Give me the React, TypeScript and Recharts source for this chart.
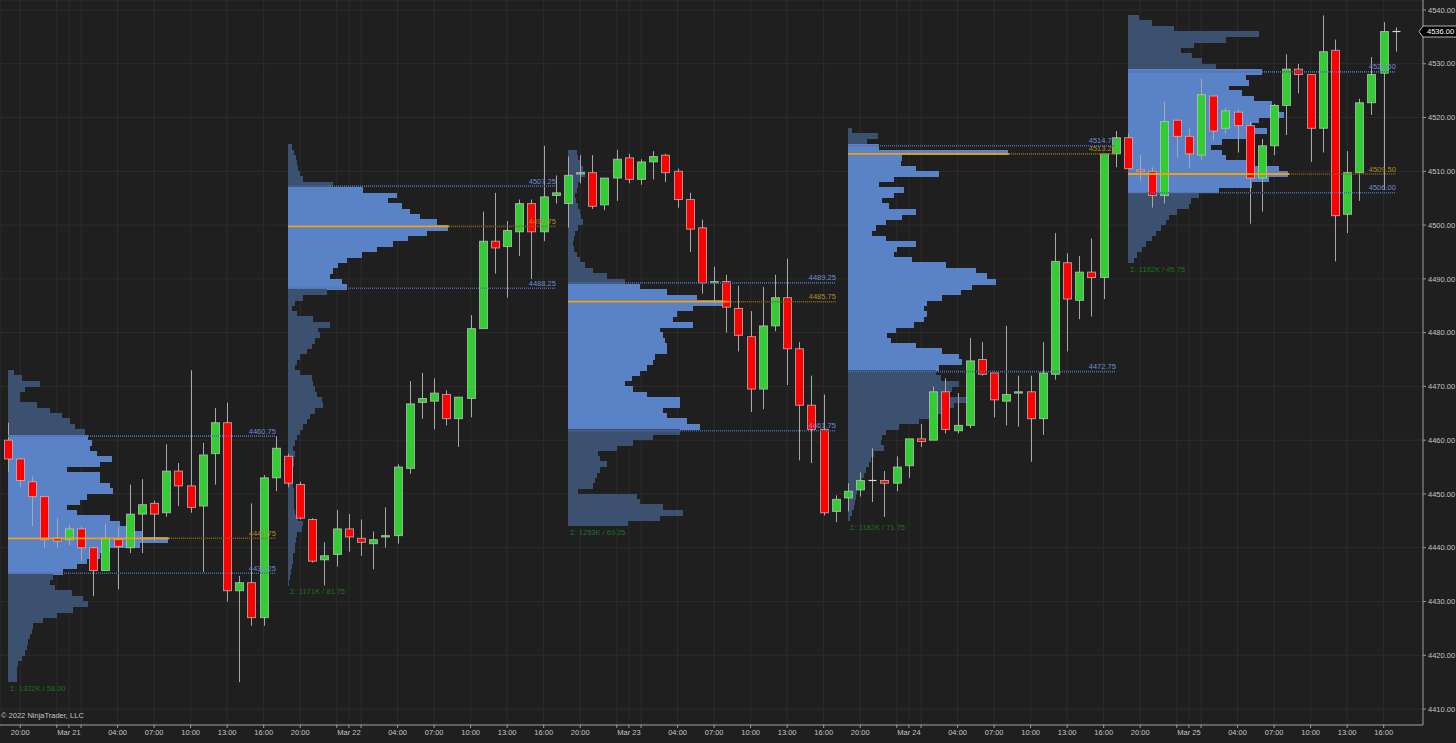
import React from "react";
import {
  Bar,
  CartesianGrid,
  ComposedChart,
  ReferenceArea,
  ReferenceDot,
  ReferenceLine,
  XAxis,
  YAxis,
} from "recharts";

const BG = "#1f1f1f";
const GRID = "#2c2c2c";
const AXIS = "#9a9a9a";
const TEXT = "#c4c4c4";
const FONT = "'Liberation Sans', Arial, sans-serif";
const UP = "#32cd32";
const DOWN = "#ff0000";
const WICK = "#a8a8a8";
const BODY_EDGE = "#c8c8c8";
const VA_FILL = "#5a82c6";
const OUT_FILL = "#3c506f";
const VA_LINE = "#4e6ba6";
const VA_TEXT = "#6e8cd2";
const POC_SOLID = "#f0a010";
const POC_DOTS = "#8a6a1e";
const POC_TEXT = "#b0862a";
const SUM_TEXT = "#1e6f1e";

// hourly bars, 23 per session
const DAYS = ["Mar 21", "Mar 22", "Mar 23", "Mar 24", "Mar 25"];
const BARS_PER_DAY = 23;

const OPEN = [
  4460, 4456.5, 4452.25, 4449.5, 4441.75, 4441.5, 4443.5, 4440, 4435.75, 4441.5, 4440, 4446.25, 4448.25, 4446.5, 4454.25, 4451.5, 4447.75, 4457.5, 4463.25, 4432, 4433.5, 4427, 4453,
  4457, 4451.75, 4445.25, 4437.75, 4438.75, 4443.5, 4441.75, 4440.75, 4442, 4442.25, 4454.75, 4467, 4467.25, 4468.5, 4464, 4467.75, 4480.75, 4497, 4496, 4498.75, 4504, 4498.75, 4505.5,
  4504, 4509.5, 4509.75, 4503.75, 4508.75, 4512.5, 4508.5, 4511.75, 4513, 4510, 4504.75, 4499.5, 4489.25, 4489.5, 4484.5, 4479.25, 4469.5, 4481.25, 4486.5, 4477, 4466.5, 4462, 4446.75,
  4449.25, 4450.75, 4452.5, 4452.5, 4452, 4455.25, 4460.25, 4460, 4469, 4461.75, 4462.75, 4475, 4472.5, 4467.25, 4468.75, 4469, 4464, 4472.25, 4493, 4486, 4491.25, 4490.25, 4513.25,
  4516.25, 4510.25, 4510, 4505.5, 4519.5, 4516.5, 4513, 4524, 4518, 4521, 4518.5, 4508.75, 4514.75, 4522.25, 4529, 4528, 4518, 4532.5, 4502, 4509.75, 4522.75, 4528.25, 4536,
];
const HIGH = [
  4463.25, 4456.75, 4453.25, 4449.5, 4445.5, 4444.25, 4444, 4440.25, 4444.5, 4444, 4451.75, 4452.75, 4448.75, 4459.25, 4455.75, 4473, 4459.5, 4466, 4467, 4434.75, 4448.25, 4453.5, 4460.75,
  4457.5, 4452.25, 4445.5, 4441, 4447, 4446.25, 4445.25, 4443, 4447.5, 4455.5, 4471, 4472.5, 4471.5, 4469.25, 4468, 4483.25, 4502.5, 4506, 4500.75, 4504.75, 4504.75, 4514.75, 4509.25,
  4512.75, 4513, 4513, 4508.75, 4514, 4513.25, 4512.25, 4513.75, 4513.25, 4510.5, 4506, 4501, 4492.25, 4490.75, 4488.75, 4484, 4488.5, 4490.75, 4493.75, 4478.25, 4472, 4468.5, 4449.75,
  4452, 4454, 4458.5, 4454.25, 4457, 4460.25, 4463, 4470, 4471.5, 4468.75, 4479, 4478.25, 4472.5, 4481.25, 4472, 4472, 4478.25, 4498.5, 4494.75, 4494.25, 4497.5, 4513.25, 4517.5,
  4517, 4513, 4510.75, 4523, 4519.5, 4518, 4527.25, 4524, 4521.75, 4521.5, 4519.25, 4516, 4522.5, 4531.75, 4530, 4528, 4539, 4534.5, 4513.75, 4523.5, 4531.25, 4537.75, 4536.75,
];
const LOW = [
  4454, 4451.25, 4444, 4440, 4440, 4440.5, 4437.5, 4431, 4435.75, 4432.25, 4439, 4439, 4441.25, 4445.75, 4447.75, 4446.5, 4435.5, 4451.75, 4430, 4415, 4425.5, 4425.5, 4450.5,
  4451.25, 4445.25, 4437.25, 4433, 4436.5, 4439.25, 4438.5, 4436, 4440, 4440.75, 4453.75, 4464, 4462, 4462.75, 4458.75, 4464.25, 4480.75, 4491, 4486.5, 4494.25, 4490, 4497, 4504,
  4499.5, 4507.75, 4503, 4502.75, 4504.5, 4507.75, 4507.5, 4508.5, 4508, 4503.25, 4495, 4487.25, 4485.5, 4480, 4476.5, 4465.25, 4465.75, 4480.25, 4470.25, 4456.25, 4455.75, 4446, 4444.75,
  4446.75, 4449.5, 4448.5, 4445.75, 4450.5, 4453, 4458.75, 4460, 4461.25, 4461.25, 4462.25, 4472, 4464.25, 4462.75, 4462.5, 4456, 4461, 4471.25, 4476.5, 4482.5, 4483, 4486.25, 4510.75,
  4510.5, 4508.25, 4503.25, 4504, 4512.5, 4510.5, 4512, 4515.75, 4517, 4513.5, 4500.25, 4502.5, 4513, 4516.75, 4524.5, 4511.75, 4513.5, 4493.25, 4498.5, 4504.5, 4520.5, 4506.5, 4532.25,
];
const CLOSE = [
  4456.5, 4452.5, 4449.5, 4441.5, 4441.25, 4443.5, 4440, 4435.75, 4441.75, 4440.25, 4446.25, 4448, 4446.25, 4454.25, 4451.5, 4447.5, 4457.25, 4463.25, 4432, 4433.5, 4427, 4453, 4458.5,
  4452, 4445.5, 4437.5, 4438.5, 4443.5, 4442, 4441, 4441.5, 4442.25, 4455, 4466.75, 4467.75, 4468.75, 4464, 4468, 4480.75, 4497, 4495.75, 4499, 4504, 4498.75, 4505.25, 4506,
  4509.25, 4509.75, 4503.5, 4508.75, 4512.25, 4508.5, 4511.75, 4512.75, 4509.75, 4504.75, 4499.25, 4489.25, 4489.5, 4484.75, 4479.5, 4469.5, 4481.25, 4486.5, 4477, 4466.5, 4462, 4446.5, 4449,
  4450.5, 4452.5, 4452.5, 4452, 4455, 4460.25, 4459.75, 4469, 4462, 4462.75, 4474.75, 4472.25, 4467.5, 4468.5, 4469, 4464, 4472.5, 4493.25, 4486.25, 4491.25, 4490.25, 4513.25, 4516.25,
  4510.5, 4510, 4505.5, 4519.25, 4516.5, 4513.25, 4524.25, 4517.5, 4521.25, 4518.5, 4508.75, 4514.75, 4522.25, 4529, 4528, 4518, 4532.25, 4501.75, 4509.75, 4522.75, 4528, 4536, 4536,
];

// session volume profiles: relative volume per 1-point row, from the top row down
const PROFILE_TOP = [4472, 4514, 4513, 4517, 4538];
const PROFILE_1 = [
  6, 14, 32, 17, 12, 12, 29, 42, 54, 62, 67, 77, 80, 84, 82, 89, 104, 92, 59, 92,
  92, 102, 105, 79, 72, 59, 69, 102, 112, 125, 135, 160, 132, 102, 92, 79, 69, 55, 45, 42,
  47, 64, 75, 80, 65, 49, 35, 25, 24, 22, 20, 19, 17, 14, 10, 9, 9, 9,
];
const PROFILE_2 = [
  4, 6, 8, 9, 10, 12, 15, 45, 75, 109, 100, 114, 122, 132, 149, 160, 139, 120, 105, 89,
  74, 59, 50, 45, 42, 54, 59, 39, 15, 7, 4, 9, 25, 42, 30, 32, 27, 24, 19, 12,
  9, 7, 12, 24, 25, 27, 29, 34, 35, 27, 22, 19, 15, 12, 9, 7, 5, 7, 6, 6,
  5, 5, 5, 5, 6, 6, 6, 6, 7, 10, 15, 14, 9, 8, 7, 7, 5, 5, 4, 3, 2, 1,
];
const PROFILE_3 = [
  9, 10, 12, 15, 17, 13, 10, 9, 7, 8, 10, 12, 13, 15, 10, 7, 6, 5, 6, 9,
  12, 17, 25, 39, 57, 72, 99, 129, 160, 125, 109, 105, 125, 92, 95, 97, 99, 99, 87, 85,
  79, 72, 64, 57, 65, 79, 112, 112, 95, 99, 119, 132, 112, 85, 65, 49, 30, 32, 39, 32,
  29, 27, 25, 10, 69, 72, 95, 115, 92, 60,
];
const PROFILE_4 = [
  4, 30, 19, 31, 160, 54, 53, 68, 91, 46, 31, 56, 46, 34, 41, 68, 54, 38, 28, 24,
  38, 68, 49, 46, 64, 98, 128, 139, 148, 124, 113, 94, 79, 76, 79, 76, 66, 48, 39, 43,
  68, 94, 111, 114, 91, 88, 93, 111, 104, 101, 121, 106, 98, 81, 71, 51, 38, 34, 33, 36,
  26, 23, 21, 18, 16, 14, 11, 9, 8, 7, 6, 4, 2,
];
const PROFILE_5 = [
  11, 24, 46, 131, 98, 66, 53, 64, 74, 88, 134, 118, 121, 101, 114, 126, 144, 148, 156, 131,
  124, 139, 118, 94, 83, 94, 98, 124, 151, 160, 141, 124, 91, 71, 63, 61, 49, 41, 38, 33,
  28, 24, 18, 14, 9, 6,
];
const PROFILES = [PROFILE_1, PROFILE_2, PROFILE_3, PROFILE_4, PROFILE_5];

const VAH = [4460.75, 4507.25, 4489.25, 4514.75, 4528.5];
const POC = [4441.75, 4499.75, 4485.75, 4513.25, 4509.5];
const VAL = [4435.25, 4488.25, 4461.75, 4472.75, 4506.0];
const DAY_VOLUME = ["1322K", "1171K", "1253K", "1182K", "1192K"];
const DAY_RANGE = [58.0, 81.75, 69.25, 71.75, 45.75];

const Y_TICKS = [4410, 4420, 4430, 4440, 4450, 4460, 4470, 4480, 4490, 4500, 4510, 4520, 4530, 4540];
const TICK_OFFSETS = [1, 4, 5, 6, 9, 12, 15, 18, 21];
const TICK_TEXT = ["20:00", "", "DATE", "", "04:00", "07:00", "10:00", "13:00", "16:00"];

const X_MIN = -0.66;
const X_MAX = 116.23;
const Y_MIN = 4407.03;
const Y_MAX = 4541.86;
const BARS_PER_VOL = 13.14 / 160; // widest row spans ~13 bars

const candles = OPEN.map((o, i) => ({
  i,
  o,
  h: HIGH[i],
  l: LOW[i],
  c: CLOSE[i],
  range: [LOW[i], HIGH[i]],
}));

const xTicks: number[] = [];
const xTickLabel: Record<number, string> = {};
DAYS.forEach((day, d) => {
  TICK_OFFSETS.forEach((off, k) => {
    const v = d * BARS_PER_DAY + off;
    xTicks.push(v);
    xTickLabel[v] = TICK_TEXT[k] === "DATE" ? day : TICK_TEXT[k];
  });
});

const LAST = CLOSE[CLOSE.length - 1];

function Candle(props: any) {
  const { x, y, width, height, payload } = props;
  if (!payload || !isFinite(y) || !isFinite(height)) return null;
  const { o, h, l, c } = payload;
  const top = Math.min(y, y + height);
  const hh = Math.abs(height);
  const span = h - l || 1;
  const py = (v: number) => top + ((h - v) / span) * hh;
  const cx = Math.round(x + width / 2) + 0.5;
  const bTop = py(Math.max(o, c));
  const bBot = py(Math.min(o, c));
  return (
    <g>
      <line x1={cx} x2={cx} y1={top} y2={top + hh} stroke={WICK} strokeWidth={1} />
      {o === c ? (
        <line x1={cx - 4} x2={cx + 4} y1={bTop} y2={bTop} stroke="#d8d8d8" strokeWidth={1.2} />
      ) : (
        <rect
          x={cx - 4}
          y={bTop}
          width={8}
          height={Math.max(1, bBot - bTop)}
          fill={c > o ? UP : DOWN}
          stroke={BODY_EDGE}
          strokeOpacity={0.7}
          strokeWidth={1}
        />
      )}
    </g>
  );
}

const txt = (x: number, y: number, s: string, color: string, anchor = "start") => (
  <text x={x} y={y} fill={color} fontSize={7.5} fontFamily={FONT} textAnchor={anchor}>
    {s}
  </text>
);

export default function App() {
  const rows: React.ReactNode[] = [];
  const lines: React.ReactNode[] = [];
  const labels: React.ReactNode[] = [];

  PROFILES.forEach((vols, d) => {
    const start = d * BARS_PER_DAY;
    const end = start + BARS_PER_DAY - 1;
    vols.forEach((v, j) => {
      const p = PROFILE_TOP[d] - j;
      const mid = p + 0.5;
      const fill = mid >= VAL[d] && mid <= VAH[d] ? VA_FILL : OUT_FILL;
      rows.push(
        <ReferenceArea
          key={`r${d}-${j}`}
          x1={start}
          x2={start + v * BARS_PER_VOL}
          y1={p - 0.05}
          y2={p + 1.05}
          fill={fill}
          fillOpacity={1}
          stroke="none"
          shapeRendering="crispEdges"
          ifOverflow="visible"
        />
      );
    });
    const pocEnd = start + Math.max(...vols) * BARS_PER_VOL + 0.1;
    [VAH[d], VAL[d]].forEach((lv, k) => {
      lines.push(
        <ReferenceLine
          key={`va${d}-${k}`}
          segment={[{ x: start, y: lv }, { x: end, y: lv }]}
          stroke={VA_LINE}
          strokeWidth={1.6}
          strokeDasharray="1 1"
          ifOverflow="visible"
        />
      );
      labels.push(
        <ReferenceDot
          key={`val${d}-${k}`}
          x={end}
          y={lv}
          r={0}
          ifOverflow="visible"
          shape={(p: any) => txt(p.cx, p.cy - 2.5, lv.toFixed(2), VA_TEXT, "end")}
        />
      );
    });
    lines.push(
      <ReferenceLine
        key={`pocd${d}`}
        segment={[{ x: pocEnd, y: POC[d] }, { x: end, y: POC[d] }]}
        stroke={POC_DOTS}
        strokeWidth={1.6}
        strokeDasharray="1 1"
        ifOverflow="visible"
      />,
      <ReferenceLine
        key={`pocs${d}`}
        segment={[{ x: start, y: POC[d] }, { x: pocEnd, y: POC[d] }]}
        stroke={POC_SOLID}
        strokeWidth={1.8}
        ifOverflow="visible"
      />
    );
    labels.push(
      <ReferenceDot
        key={`pocl${d}`}
        x={end}
        y={POC[d]}
        r={0}
        ifOverflow="visible"
        shape={(p: any) => txt(p.cx, p.cy - 2.5, POC[d].toFixed(2), POC_TEXT, "end")}
      />,
      <ReferenceDot
        key={`sum${d}`}
        x={start}
        y={PROFILE_TOP[d] - vols.length + 1}
        r={0}
        ifOverflow="visible"
        shape={(p: any) =>
          txt(p.cx + 2, p.cy + 9, `Σ: ${DAY_VOLUME[d]} / ${DAY_RANGE[d].toFixed(2)}`, SUM_TEXT)
        }
      />
    );
  });

  return (
    <div style={{ position: "relative", width: 1456, height: 743, background: BG }}>
      <style>{`body{margin:0;background:${BG}}`}</style>
      <ComposedChart
        width={1456}
        height={743}
        data={candles}
        margin={{ top: 0, right: 0, bottom: 0, left: 0 }}
      >
        <CartesianGrid stroke={GRID} strokeWidth={1} />
        <XAxis
          dataKey="i"
          type="number"
          domain={[X_MIN, X_MAX]}
          allowDataOverflow
          ticks={xTicks}
          interval={0}
          height={18}
          tickSize={3}
          tickMargin={2}
          tickFormatter={(v: number) => xTickLabel[v] ?? ""}
          tick={{ fill: TEXT, fontSize: 7.5, fontFamily: FONT }}
          axisLine={{ stroke: AXIS }}
          tickLine={{ stroke: AXIS }}
        />
        <YAxis
          orientation="right"
          type="number"
          domain={[Y_MIN, Y_MAX]}
          allowDataOverflow
          ticks={Y_TICKS}
          interval={0}
          width={33}
          tickSize={3}
          tickMargin={2}
          tickFormatter={(v: number) => v.toFixed(2)}
          tick={{ fill: TEXT, fontSize: 7.5, fontFamily: FONT }}
          axisLine={{ stroke: AXIS }}
          tickLine={{ stroke: AXIS }}
        />
        {rows}
        {lines}
        {labels}
        <Bar
          dataKey="range"
          barSize={8}
          isAnimationActive={false}
          shape={(p: any) => <Candle {...p} />}
        />
        <ReferenceDot
          x={X_MAX}
          y={LAST}
          r={0}
          ifOverflow="visible"
          shape={(p: any) => (
            <g>
              <path
                d={`M${p.cx - 4},${p.cy} L${p.cx},${p.cy - 5.5} H${p.cx + 40} V${p.cy + 5.5} H${p.cx} Z`}
                fill="#000"
                stroke="#dcdcdc"
                strokeWidth={0.8}
              />
              {txt(p.cx + 4, p.cy + 2.7, LAST.toFixed(2), "#ffffff")}
            </g>
          )}
        />
      </ComposedChart>
      <div
        style={{
          position: "absolute",
          left: 1,
          top: 711,
          fontSize: 7.5,
          fontFamily: FONT,
          color: TEXT,
        }}
      >
        © 2022 NinjaTrader, LLC
      </div>
    </div>
  );
}
